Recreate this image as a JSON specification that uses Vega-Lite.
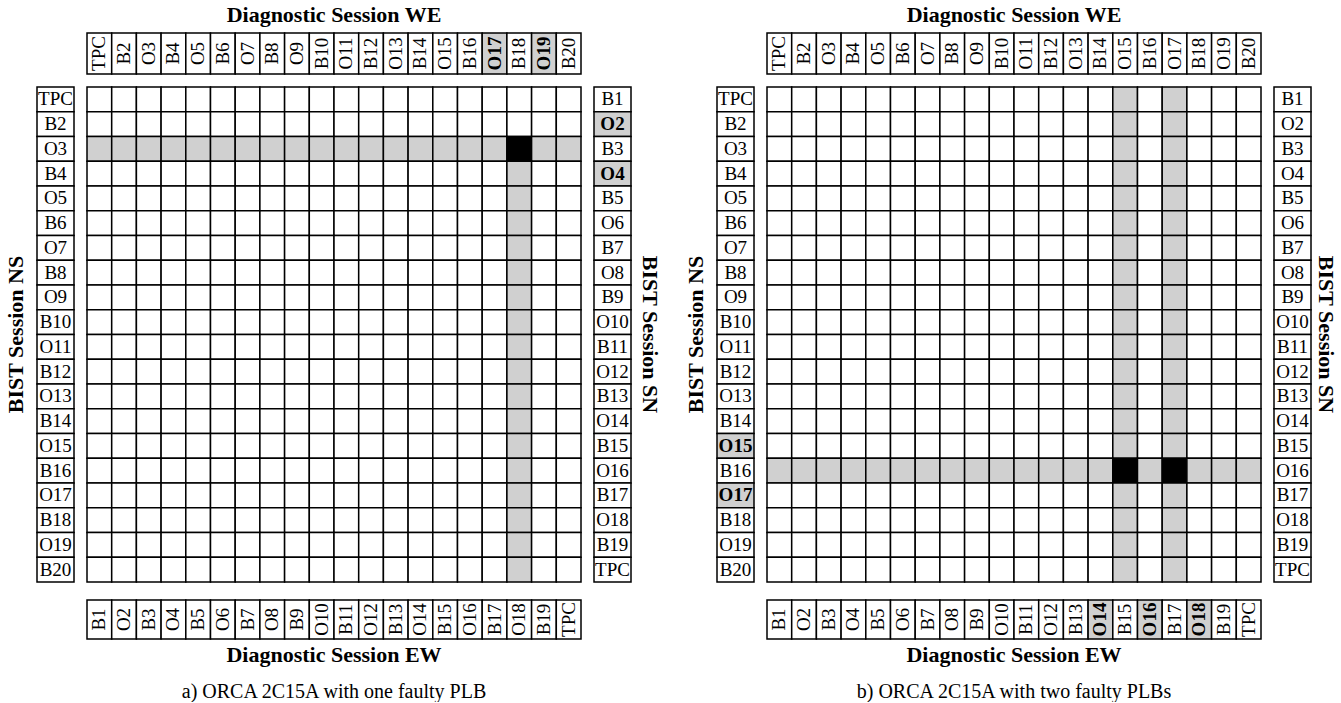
{
"$schema": "https://vega.github.io/schema/vega-lite/v6.json",
"padding": {"left": 5, "top": 4, "right": 0, "bottom": 0},
"background": "white",
"config": {"view": {"stroke": null}, "font": "Liberation Serif", "title": {"font": "Liberation Serif", "color": "black"}, "text": {"font": "Liberation Serif", "color": "black"}},
"datasets": {
"aTop": [{"i":1,"t":"TPC","h":0},{"i":2,"t":"B2","h":0},{"i":3,"t":"O3","h":0},{"i":4,"t":"B4","h":0},{"i":5,"t":"O5","h":0},{"i":6,"t":"B6","h":0},{"i":7,"t":"O7","h":0},{"i":8,"t":"B8","h":0},{"i":9,"t":"O9","h":0},{"i":10,"t":"B10","h":0},{"i":11,"t":"O11","h":0},{"i":12,"t":"B12","h":0},{"i":13,"t":"O13","h":0},{"i":14,"t":"B14","h":0},{"i":15,"t":"O15","h":0},{"i":16,"t":"B16","h":0},{"i":17,"t":"O17","h":1},{"i":18,"t":"B18","h":0},{"i":19,"t":"O19","h":1},{"i":20,"t":"B20","h":0}],
"aBottom": [{"i":1,"t":"B1","h":0},{"i":2,"t":"O2","h":0},{"i":3,"t":"B3","h":0},{"i":4,"t":"O4","h":0},{"i":5,"t":"B5","h":0},{"i":6,"t":"O6","h":0},{"i":7,"t":"B7","h":0},{"i":8,"t":"O8","h":0},{"i":9,"t":"B9","h":0},{"i":10,"t":"O10","h":0},{"i":11,"t":"B11","h":0},{"i":12,"t":"O12","h":0},{"i":13,"t":"B13","h":0},{"i":14,"t":"O14","h":0},{"i":15,"t":"B15","h":0},{"i":16,"t":"O16","h":0},{"i":17,"t":"B17","h":0},{"i":18,"t":"O18","h":0},{"i":19,"t":"B19","h":0},{"i":20,"t":"TPC","h":0}],
"aLeft": [{"i":1,"t":"TPC","h":0},{"i":2,"t":"B2","h":0},{"i":3,"t":"O3","h":0},{"i":4,"t":"B4","h":0},{"i":5,"t":"O5","h":0},{"i":6,"t":"B6","h":0},{"i":7,"t":"O7","h":0},{"i":8,"t":"B8","h":0},{"i":9,"t":"O9","h":0},{"i":10,"t":"B10","h":0},{"i":11,"t":"O11","h":0},{"i":12,"t":"B12","h":0},{"i":13,"t":"O13","h":0},{"i":14,"t":"B14","h":0},{"i":15,"t":"O15","h":0},{"i":16,"t":"B16","h":0},{"i":17,"t":"O17","h":0},{"i":18,"t":"B18","h":0},{"i":19,"t":"O19","h":0},{"i":20,"t":"B20","h":0}],
"aRight": [{"i":1,"t":"B1","h":0},{"i":2,"t":"O2","h":1},{"i":3,"t":"B3","h":0},{"i":4,"t":"O4","h":1},{"i":5,"t":"B5","h":0},{"i":6,"t":"O6","h":0},{"i":7,"t":"B7","h":0},{"i":8,"t":"O8","h":0},{"i":9,"t":"B9","h":0},{"i":10,"t":"O10","h":0},{"i":11,"t":"B11","h":0},{"i":12,"t":"O12","h":0},{"i":13,"t":"B13","h":0},{"i":14,"t":"O14","h":0},{"i":15,"t":"B15","h":0},{"i":16,"t":"O16","h":0},{"i":17,"t":"B17","h":0},{"i":18,"t":"O18","h":0},{"i":19,"t":"B19","h":0},{"i":20,"t":"TPC","h":0}],
"bTop": [{"i":1,"t":"TPC","h":0},{"i":2,"t":"B2","h":0},{"i":3,"t":"O3","h":0},{"i":4,"t":"B4","h":0},{"i":5,"t":"O5","h":0},{"i":6,"t":"B6","h":0},{"i":7,"t":"O7","h":0},{"i":8,"t":"B8","h":0},{"i":9,"t":"O9","h":0},{"i":10,"t":"B10","h":0},{"i":11,"t":"O11","h":0},{"i":12,"t":"B12","h":0},{"i":13,"t":"O13","h":0},{"i":14,"t":"B14","h":0},{"i":15,"t":"O15","h":0},{"i":16,"t":"B16","h":0},{"i":17,"t":"O17","h":0},{"i":18,"t":"B18","h":0},{"i":19,"t":"O19","h":0},{"i":20,"t":"B20","h":0}],
"bBottom": [{"i":1,"t":"B1","h":0},{"i":2,"t":"O2","h":0},{"i":3,"t":"B3","h":0},{"i":4,"t":"O4","h":0},{"i":5,"t":"B5","h":0},{"i":6,"t":"O6","h":0},{"i":7,"t":"B7","h":0},{"i":8,"t":"O8","h":0},{"i":9,"t":"B9","h":0},{"i":10,"t":"O10","h":0},{"i":11,"t":"B11","h":0},{"i":12,"t":"O12","h":0},{"i":13,"t":"B13","h":0},{"i":14,"t":"O14","h":1},{"i":15,"t":"B15","h":0},{"i":16,"t":"O16","h":1},{"i":17,"t":"B17","h":0},{"i":18,"t":"O18","h":1},{"i":19,"t":"B19","h":0},{"i":20,"t":"TPC","h":0}],
"bLeft": [{"i":1,"t":"TPC","h":0},{"i":2,"t":"B2","h":0},{"i":3,"t":"O3","h":0},{"i":4,"t":"B4","h":0},{"i":5,"t":"O5","h":0},{"i":6,"t":"B6","h":0},{"i":7,"t":"O7","h":0},{"i":8,"t":"B8","h":0},{"i":9,"t":"O9","h":0},{"i":10,"t":"B10","h":0},{"i":11,"t":"O11","h":0},{"i":12,"t":"B12","h":0},{"i":13,"t":"O13","h":0},{"i":14,"t":"B14","h":0},{"i":15,"t":"O15","h":1},{"i":16,"t":"B16","h":0},{"i":17,"t":"O17","h":1},{"i":18,"t":"B18","h":0},{"i":19,"t":"O19","h":0},{"i":20,"t":"B20","h":0}],
"bRight": [{"i":1,"t":"B1","h":0},{"i":2,"t":"O2","h":0},{"i":3,"t":"B3","h":0},{"i":4,"t":"O4","h":0},{"i":5,"t":"B5","h":0},{"i":6,"t":"O6","h":0},{"i":7,"t":"B7","h":0},{"i":8,"t":"O8","h":0},{"i":9,"t":"B9","h":0},{"i":10,"t":"O10","h":0},{"i":11,"t":"B11","h":0},{"i":12,"t":"O12","h":0},{"i":13,"t":"B13","h":0},{"i":14,"t":"O14","h":0},{"i":15,"t":"B15","h":0},{"i":16,"t":"O16","h":0},{"i":17,"t":"B17","h":0},{"i":18,"t":"O18","h":0},{"i":19,"t":"B19","h":0},{"i":20,"t":"TPC","h":0}],
"aCells": [
{"r":1,"c":1,"v":0},{"r":1,"c":2,"v":0},{"r":1,"c":3,"v":0},{"r":1,"c":4,"v":0},{"r":1,"c":5,"v":0},{"r":1,"c":6,"v":0},{"r":1,"c":7,"v":0},{"r":1,"c":8,"v":0},{"r":1,"c":9,"v":0},{"r":1,"c":10,"v":0},{"r":1,"c":11,"v":0},{"r":1,"c":12,"v":0},{"r":1,"c":13,"v":0},{"r":1,"c":14,"v":0},{"r":1,"c":15,"v":0},{"r":1,"c":16,"v":0},{"r":1,"c":17,"v":0},{"r":1,"c":18,"v":0},{"r":1,"c":19,"v":0},{"r":1,"c":20,"v":0},
{"r":2,"c":1,"v":0},{"r":2,"c":2,"v":0},{"r":2,"c":3,"v":0},{"r":2,"c":4,"v":0},{"r":2,"c":5,"v":0},{"r":2,"c":6,"v":0},{"r":2,"c":7,"v":0},{"r":2,"c":8,"v":0},{"r":2,"c":9,"v":0},{"r":2,"c":10,"v":0},{"r":2,"c":11,"v":0},{"r":2,"c":12,"v":0},{"r":2,"c":13,"v":0},{"r":2,"c":14,"v":0},{"r":2,"c":15,"v":0},{"r":2,"c":16,"v":0},{"r":2,"c":17,"v":0},{"r":2,"c":18,"v":0},{"r":2,"c":19,"v":0},{"r":2,"c":20,"v":0},
{"r":3,"c":1,"v":1},{"r":3,"c":2,"v":1},{"r":3,"c":3,"v":1},{"r":3,"c":4,"v":1},{"r":3,"c":5,"v":1},{"r":3,"c":6,"v":1},{"r":3,"c":7,"v":1},{"r":3,"c":8,"v":1},{"r":3,"c":9,"v":1},{"r":3,"c":10,"v":1},{"r":3,"c":11,"v":1},{"r":3,"c":12,"v":1},{"r":3,"c":13,"v":1},{"r":3,"c":14,"v":1},{"r":3,"c":15,"v":1},{"r":3,"c":16,"v":1},{"r":3,"c":17,"v":1},{"r":3,"c":18,"v":2},{"r":3,"c":19,"v":1},{"r":3,"c":20,"v":1},
{"r":4,"c":1,"v":0},{"r":4,"c":2,"v":0},{"r":4,"c":3,"v":0},{"r":4,"c":4,"v":0},{"r":4,"c":5,"v":0},{"r":4,"c":6,"v":0},{"r":4,"c":7,"v":0},{"r":4,"c":8,"v":0},{"r":4,"c":9,"v":0},{"r":4,"c":10,"v":0},{"r":4,"c":11,"v":0},{"r":4,"c":12,"v":0},{"r":4,"c":13,"v":0},{"r":4,"c":14,"v":0},{"r":4,"c":15,"v":0},{"r":4,"c":16,"v":0},{"r":4,"c":17,"v":0},{"r":4,"c":18,"v":1},{"r":4,"c":19,"v":0},{"r":4,"c":20,"v":0},
{"r":5,"c":1,"v":0},{"r":5,"c":2,"v":0},{"r":5,"c":3,"v":0},{"r":5,"c":4,"v":0},{"r":5,"c":5,"v":0},{"r":5,"c":6,"v":0},{"r":5,"c":7,"v":0},{"r":5,"c":8,"v":0},{"r":5,"c":9,"v":0},{"r":5,"c":10,"v":0},{"r":5,"c":11,"v":0},{"r":5,"c":12,"v":0},{"r":5,"c":13,"v":0},{"r":5,"c":14,"v":0},{"r":5,"c":15,"v":0},{"r":5,"c":16,"v":0},{"r":5,"c":17,"v":0},{"r":5,"c":18,"v":1},{"r":5,"c":19,"v":0},{"r":5,"c":20,"v":0},
{"r":6,"c":1,"v":0},{"r":6,"c":2,"v":0},{"r":6,"c":3,"v":0},{"r":6,"c":4,"v":0},{"r":6,"c":5,"v":0},{"r":6,"c":6,"v":0},{"r":6,"c":7,"v":0},{"r":6,"c":8,"v":0},{"r":6,"c":9,"v":0},{"r":6,"c":10,"v":0},{"r":6,"c":11,"v":0},{"r":6,"c":12,"v":0},{"r":6,"c":13,"v":0},{"r":6,"c":14,"v":0},{"r":6,"c":15,"v":0},{"r":6,"c":16,"v":0},{"r":6,"c":17,"v":0},{"r":6,"c":18,"v":1},{"r":6,"c":19,"v":0},{"r":6,"c":20,"v":0},
{"r":7,"c":1,"v":0},{"r":7,"c":2,"v":0},{"r":7,"c":3,"v":0},{"r":7,"c":4,"v":0},{"r":7,"c":5,"v":0},{"r":7,"c":6,"v":0},{"r":7,"c":7,"v":0},{"r":7,"c":8,"v":0},{"r":7,"c":9,"v":0},{"r":7,"c":10,"v":0},{"r":7,"c":11,"v":0},{"r":7,"c":12,"v":0},{"r":7,"c":13,"v":0},{"r":7,"c":14,"v":0},{"r":7,"c":15,"v":0},{"r":7,"c":16,"v":0},{"r":7,"c":17,"v":0},{"r":7,"c":18,"v":1},{"r":7,"c":19,"v":0},{"r":7,"c":20,"v":0},
{"r":8,"c":1,"v":0},{"r":8,"c":2,"v":0},{"r":8,"c":3,"v":0},{"r":8,"c":4,"v":0},{"r":8,"c":5,"v":0},{"r":8,"c":6,"v":0},{"r":8,"c":7,"v":0},{"r":8,"c":8,"v":0},{"r":8,"c":9,"v":0},{"r":8,"c":10,"v":0},{"r":8,"c":11,"v":0},{"r":8,"c":12,"v":0},{"r":8,"c":13,"v":0},{"r":8,"c":14,"v":0},{"r":8,"c":15,"v":0},{"r":8,"c":16,"v":0},{"r":8,"c":17,"v":0},{"r":8,"c":18,"v":1},{"r":8,"c":19,"v":0},{"r":8,"c":20,"v":0},
{"r":9,"c":1,"v":0},{"r":9,"c":2,"v":0},{"r":9,"c":3,"v":0},{"r":9,"c":4,"v":0},{"r":9,"c":5,"v":0},{"r":9,"c":6,"v":0},{"r":9,"c":7,"v":0},{"r":9,"c":8,"v":0},{"r":9,"c":9,"v":0},{"r":9,"c":10,"v":0},{"r":9,"c":11,"v":0},{"r":9,"c":12,"v":0},{"r":9,"c":13,"v":0},{"r":9,"c":14,"v":0},{"r":9,"c":15,"v":0},{"r":9,"c":16,"v":0},{"r":9,"c":17,"v":0},{"r":9,"c":18,"v":1},{"r":9,"c":19,"v":0},{"r":9,"c":20,"v":0},
{"r":10,"c":1,"v":0},{"r":10,"c":2,"v":0},{"r":10,"c":3,"v":0},{"r":10,"c":4,"v":0},{"r":10,"c":5,"v":0},{"r":10,"c":6,"v":0},{"r":10,"c":7,"v":0},{"r":10,"c":8,"v":0},{"r":10,"c":9,"v":0},{"r":10,"c":10,"v":0},{"r":10,"c":11,"v":0},{"r":10,"c":12,"v":0},{"r":10,"c":13,"v":0},{"r":10,"c":14,"v":0},{"r":10,"c":15,"v":0},{"r":10,"c":16,"v":0},{"r":10,"c":17,"v":0},{"r":10,"c":18,"v":1},{"r":10,"c":19,"v":0},{"r":10,"c":20,"v":0},
{"r":11,"c":1,"v":0},{"r":11,"c":2,"v":0},{"r":11,"c":3,"v":0},{"r":11,"c":4,"v":0},{"r":11,"c":5,"v":0},{"r":11,"c":6,"v":0},{"r":11,"c":7,"v":0},{"r":11,"c":8,"v":0},{"r":11,"c":9,"v":0},{"r":11,"c":10,"v":0},{"r":11,"c":11,"v":0},{"r":11,"c":12,"v":0},{"r":11,"c":13,"v":0},{"r":11,"c":14,"v":0},{"r":11,"c":15,"v":0},{"r":11,"c":16,"v":0},{"r":11,"c":17,"v":0},{"r":11,"c":18,"v":1},{"r":11,"c":19,"v":0},{"r":11,"c":20,"v":0},
{"r":12,"c":1,"v":0},{"r":12,"c":2,"v":0},{"r":12,"c":3,"v":0},{"r":12,"c":4,"v":0},{"r":12,"c":5,"v":0},{"r":12,"c":6,"v":0},{"r":12,"c":7,"v":0},{"r":12,"c":8,"v":0},{"r":12,"c":9,"v":0},{"r":12,"c":10,"v":0},{"r":12,"c":11,"v":0},{"r":12,"c":12,"v":0},{"r":12,"c":13,"v":0},{"r":12,"c":14,"v":0},{"r":12,"c":15,"v":0},{"r":12,"c":16,"v":0},{"r":12,"c":17,"v":0},{"r":12,"c":18,"v":1},{"r":12,"c":19,"v":0},{"r":12,"c":20,"v":0},
{"r":13,"c":1,"v":0},{"r":13,"c":2,"v":0},{"r":13,"c":3,"v":0},{"r":13,"c":4,"v":0},{"r":13,"c":5,"v":0},{"r":13,"c":6,"v":0},{"r":13,"c":7,"v":0},{"r":13,"c":8,"v":0},{"r":13,"c":9,"v":0},{"r":13,"c":10,"v":0},{"r":13,"c":11,"v":0},{"r":13,"c":12,"v":0},{"r":13,"c":13,"v":0},{"r":13,"c":14,"v":0},{"r":13,"c":15,"v":0},{"r":13,"c":16,"v":0},{"r":13,"c":17,"v":0},{"r":13,"c":18,"v":1},{"r":13,"c":19,"v":0},{"r":13,"c":20,"v":0},
{"r":14,"c":1,"v":0},{"r":14,"c":2,"v":0},{"r":14,"c":3,"v":0},{"r":14,"c":4,"v":0},{"r":14,"c":5,"v":0},{"r":14,"c":6,"v":0},{"r":14,"c":7,"v":0},{"r":14,"c":8,"v":0},{"r":14,"c":9,"v":0},{"r":14,"c":10,"v":0},{"r":14,"c":11,"v":0},{"r":14,"c":12,"v":0},{"r":14,"c":13,"v":0},{"r":14,"c":14,"v":0},{"r":14,"c":15,"v":0},{"r":14,"c":16,"v":0},{"r":14,"c":17,"v":0},{"r":14,"c":18,"v":1},{"r":14,"c":19,"v":0},{"r":14,"c":20,"v":0},
{"r":15,"c":1,"v":0},{"r":15,"c":2,"v":0},{"r":15,"c":3,"v":0},{"r":15,"c":4,"v":0},{"r":15,"c":5,"v":0},{"r":15,"c":6,"v":0},{"r":15,"c":7,"v":0},{"r":15,"c":8,"v":0},{"r":15,"c":9,"v":0},{"r":15,"c":10,"v":0},{"r":15,"c":11,"v":0},{"r":15,"c":12,"v":0},{"r":15,"c":13,"v":0},{"r":15,"c":14,"v":0},{"r":15,"c":15,"v":0},{"r":15,"c":16,"v":0},{"r":15,"c":17,"v":0},{"r":15,"c":18,"v":1},{"r":15,"c":19,"v":0},{"r":15,"c":20,"v":0},
{"r":16,"c":1,"v":0},{"r":16,"c":2,"v":0},{"r":16,"c":3,"v":0},{"r":16,"c":4,"v":0},{"r":16,"c":5,"v":0},{"r":16,"c":6,"v":0},{"r":16,"c":7,"v":0},{"r":16,"c":8,"v":0},{"r":16,"c":9,"v":0},{"r":16,"c":10,"v":0},{"r":16,"c":11,"v":0},{"r":16,"c":12,"v":0},{"r":16,"c":13,"v":0},{"r":16,"c":14,"v":0},{"r":16,"c":15,"v":0},{"r":16,"c":16,"v":0},{"r":16,"c":17,"v":0},{"r":16,"c":18,"v":1},{"r":16,"c":19,"v":0},{"r":16,"c":20,"v":0},
{"r":17,"c":1,"v":0},{"r":17,"c":2,"v":0},{"r":17,"c":3,"v":0},{"r":17,"c":4,"v":0},{"r":17,"c":5,"v":0},{"r":17,"c":6,"v":0},{"r":17,"c":7,"v":0},{"r":17,"c":8,"v":0},{"r":17,"c":9,"v":0},{"r":17,"c":10,"v":0},{"r":17,"c":11,"v":0},{"r":17,"c":12,"v":0},{"r":17,"c":13,"v":0},{"r":17,"c":14,"v":0},{"r":17,"c":15,"v":0},{"r":17,"c":16,"v":0},{"r":17,"c":17,"v":0},{"r":17,"c":18,"v":1},{"r":17,"c":19,"v":0},{"r":17,"c":20,"v":0},
{"r":18,"c":1,"v":0},{"r":18,"c":2,"v":0},{"r":18,"c":3,"v":0},{"r":18,"c":4,"v":0},{"r":18,"c":5,"v":0},{"r":18,"c":6,"v":0},{"r":18,"c":7,"v":0},{"r":18,"c":8,"v":0},{"r":18,"c":9,"v":0},{"r":18,"c":10,"v":0},{"r":18,"c":11,"v":0},{"r":18,"c":12,"v":0},{"r":18,"c":13,"v":0},{"r":18,"c":14,"v":0},{"r":18,"c":15,"v":0},{"r":18,"c":16,"v":0},{"r":18,"c":17,"v":0},{"r":18,"c":18,"v":1},{"r":18,"c":19,"v":0},{"r":18,"c":20,"v":0},
{"r":19,"c":1,"v":0},{"r":19,"c":2,"v":0},{"r":19,"c":3,"v":0},{"r":19,"c":4,"v":0},{"r":19,"c":5,"v":0},{"r":19,"c":6,"v":0},{"r":19,"c":7,"v":0},{"r":19,"c":8,"v":0},{"r":19,"c":9,"v":0},{"r":19,"c":10,"v":0},{"r":19,"c":11,"v":0},{"r":19,"c":12,"v":0},{"r":19,"c":13,"v":0},{"r":19,"c":14,"v":0},{"r":19,"c":15,"v":0},{"r":19,"c":16,"v":0},{"r":19,"c":17,"v":0},{"r":19,"c":18,"v":1},{"r":19,"c":19,"v":0},{"r":19,"c":20,"v":0},
{"r":20,"c":1,"v":0},{"r":20,"c":2,"v":0},{"r":20,"c":3,"v":0},{"r":20,"c":4,"v":0},{"r":20,"c":5,"v":0},{"r":20,"c":6,"v":0},{"r":20,"c":7,"v":0},{"r":20,"c":8,"v":0},{"r":20,"c":9,"v":0},{"r":20,"c":10,"v":0},{"r":20,"c":11,"v":0},{"r":20,"c":12,"v":0},{"r":20,"c":13,"v":0},{"r":20,"c":14,"v":0},{"r":20,"c":15,"v":0},{"r":20,"c":16,"v":0},{"r":20,"c":17,"v":0},{"r":20,"c":18,"v":1},{"r":20,"c":19,"v":0},{"r":20,"c":20,"v":0}
],
"bCells": [
{"r":1,"c":1,"v":0},{"r":1,"c":2,"v":0},{"r":1,"c":3,"v":0},{"r":1,"c":4,"v":0},{"r":1,"c":5,"v":0},{"r":1,"c":6,"v":0},{"r":1,"c":7,"v":0},{"r":1,"c":8,"v":0},{"r":1,"c":9,"v":0},{"r":1,"c":10,"v":0},{"r":1,"c":11,"v":0},{"r":1,"c":12,"v":0},{"r":1,"c":13,"v":0},{"r":1,"c":14,"v":0},{"r":1,"c":15,"v":1},{"r":1,"c":16,"v":0},{"r":1,"c":17,"v":1},{"r":1,"c":18,"v":0},{"r":1,"c":19,"v":0},{"r":1,"c":20,"v":0},
{"r":2,"c":1,"v":0},{"r":2,"c":2,"v":0},{"r":2,"c":3,"v":0},{"r":2,"c":4,"v":0},{"r":2,"c":5,"v":0},{"r":2,"c":6,"v":0},{"r":2,"c":7,"v":0},{"r":2,"c":8,"v":0},{"r":2,"c":9,"v":0},{"r":2,"c":10,"v":0},{"r":2,"c":11,"v":0},{"r":2,"c":12,"v":0},{"r":2,"c":13,"v":0},{"r":2,"c":14,"v":0},{"r":2,"c":15,"v":1},{"r":2,"c":16,"v":0},{"r":2,"c":17,"v":1},{"r":2,"c":18,"v":0},{"r":2,"c":19,"v":0},{"r":2,"c":20,"v":0},
{"r":3,"c":1,"v":0},{"r":3,"c":2,"v":0},{"r":3,"c":3,"v":0},{"r":3,"c":4,"v":0},{"r":3,"c":5,"v":0},{"r":3,"c":6,"v":0},{"r":3,"c":7,"v":0},{"r":3,"c":8,"v":0},{"r":3,"c":9,"v":0},{"r":3,"c":10,"v":0},{"r":3,"c":11,"v":0},{"r":3,"c":12,"v":0},{"r":3,"c":13,"v":0},{"r":3,"c":14,"v":0},{"r":3,"c":15,"v":1},{"r":3,"c":16,"v":0},{"r":3,"c":17,"v":1},{"r":3,"c":18,"v":0},{"r":3,"c":19,"v":0},{"r":3,"c":20,"v":0},
{"r":4,"c":1,"v":0},{"r":4,"c":2,"v":0},{"r":4,"c":3,"v":0},{"r":4,"c":4,"v":0},{"r":4,"c":5,"v":0},{"r":4,"c":6,"v":0},{"r":4,"c":7,"v":0},{"r":4,"c":8,"v":0},{"r":4,"c":9,"v":0},{"r":4,"c":10,"v":0},{"r":4,"c":11,"v":0},{"r":4,"c":12,"v":0},{"r":4,"c":13,"v":0},{"r":4,"c":14,"v":0},{"r":4,"c":15,"v":1},{"r":4,"c":16,"v":0},{"r":4,"c":17,"v":1},{"r":4,"c":18,"v":0},{"r":4,"c":19,"v":0},{"r":4,"c":20,"v":0},
{"r":5,"c":1,"v":0},{"r":5,"c":2,"v":0},{"r":5,"c":3,"v":0},{"r":5,"c":4,"v":0},{"r":5,"c":5,"v":0},{"r":5,"c":6,"v":0},{"r":5,"c":7,"v":0},{"r":5,"c":8,"v":0},{"r":5,"c":9,"v":0},{"r":5,"c":10,"v":0},{"r":5,"c":11,"v":0},{"r":5,"c":12,"v":0},{"r":5,"c":13,"v":0},{"r":5,"c":14,"v":0},{"r":5,"c":15,"v":1},{"r":5,"c":16,"v":0},{"r":5,"c":17,"v":1},{"r":5,"c":18,"v":0},{"r":5,"c":19,"v":0},{"r":5,"c":20,"v":0},
{"r":6,"c":1,"v":0},{"r":6,"c":2,"v":0},{"r":6,"c":3,"v":0},{"r":6,"c":4,"v":0},{"r":6,"c":5,"v":0},{"r":6,"c":6,"v":0},{"r":6,"c":7,"v":0},{"r":6,"c":8,"v":0},{"r":6,"c":9,"v":0},{"r":6,"c":10,"v":0},{"r":6,"c":11,"v":0},{"r":6,"c":12,"v":0},{"r":6,"c":13,"v":0},{"r":6,"c":14,"v":0},{"r":6,"c":15,"v":1},{"r":6,"c":16,"v":0},{"r":6,"c":17,"v":1},{"r":6,"c":18,"v":0},{"r":6,"c":19,"v":0},{"r":6,"c":20,"v":0},
{"r":7,"c":1,"v":0},{"r":7,"c":2,"v":0},{"r":7,"c":3,"v":0},{"r":7,"c":4,"v":0},{"r":7,"c":5,"v":0},{"r":7,"c":6,"v":0},{"r":7,"c":7,"v":0},{"r":7,"c":8,"v":0},{"r":7,"c":9,"v":0},{"r":7,"c":10,"v":0},{"r":7,"c":11,"v":0},{"r":7,"c":12,"v":0},{"r":7,"c":13,"v":0},{"r":7,"c":14,"v":0},{"r":7,"c":15,"v":1},{"r":7,"c":16,"v":0},{"r":7,"c":17,"v":1},{"r":7,"c":18,"v":0},{"r":7,"c":19,"v":0},{"r":7,"c":20,"v":0},
{"r":8,"c":1,"v":0},{"r":8,"c":2,"v":0},{"r":8,"c":3,"v":0},{"r":8,"c":4,"v":0},{"r":8,"c":5,"v":0},{"r":8,"c":6,"v":0},{"r":8,"c":7,"v":0},{"r":8,"c":8,"v":0},{"r":8,"c":9,"v":0},{"r":8,"c":10,"v":0},{"r":8,"c":11,"v":0},{"r":8,"c":12,"v":0},{"r":8,"c":13,"v":0},{"r":8,"c":14,"v":0},{"r":8,"c":15,"v":1},{"r":8,"c":16,"v":0},{"r":8,"c":17,"v":1},{"r":8,"c":18,"v":0},{"r":8,"c":19,"v":0},{"r":8,"c":20,"v":0},
{"r":9,"c":1,"v":0},{"r":9,"c":2,"v":0},{"r":9,"c":3,"v":0},{"r":9,"c":4,"v":0},{"r":9,"c":5,"v":0},{"r":9,"c":6,"v":0},{"r":9,"c":7,"v":0},{"r":9,"c":8,"v":0},{"r":9,"c":9,"v":0},{"r":9,"c":10,"v":0},{"r":9,"c":11,"v":0},{"r":9,"c":12,"v":0},{"r":9,"c":13,"v":0},{"r":9,"c":14,"v":0},{"r":9,"c":15,"v":1},{"r":9,"c":16,"v":0},{"r":9,"c":17,"v":1},{"r":9,"c":18,"v":0},{"r":9,"c":19,"v":0},{"r":9,"c":20,"v":0},
{"r":10,"c":1,"v":0},{"r":10,"c":2,"v":0},{"r":10,"c":3,"v":0},{"r":10,"c":4,"v":0},{"r":10,"c":5,"v":0},{"r":10,"c":6,"v":0},{"r":10,"c":7,"v":0},{"r":10,"c":8,"v":0},{"r":10,"c":9,"v":0},{"r":10,"c":10,"v":0},{"r":10,"c":11,"v":0},{"r":10,"c":12,"v":0},{"r":10,"c":13,"v":0},{"r":10,"c":14,"v":0},{"r":10,"c":15,"v":1},{"r":10,"c":16,"v":0},{"r":10,"c":17,"v":1},{"r":10,"c":18,"v":0},{"r":10,"c":19,"v":0},{"r":10,"c":20,"v":0},
{"r":11,"c":1,"v":0},{"r":11,"c":2,"v":0},{"r":11,"c":3,"v":0},{"r":11,"c":4,"v":0},{"r":11,"c":5,"v":0},{"r":11,"c":6,"v":0},{"r":11,"c":7,"v":0},{"r":11,"c":8,"v":0},{"r":11,"c":9,"v":0},{"r":11,"c":10,"v":0},{"r":11,"c":11,"v":0},{"r":11,"c":12,"v":0},{"r":11,"c":13,"v":0},{"r":11,"c":14,"v":0},{"r":11,"c":15,"v":1},{"r":11,"c":16,"v":0},{"r":11,"c":17,"v":1},{"r":11,"c":18,"v":0},{"r":11,"c":19,"v":0},{"r":11,"c":20,"v":0},
{"r":12,"c":1,"v":0},{"r":12,"c":2,"v":0},{"r":12,"c":3,"v":0},{"r":12,"c":4,"v":0},{"r":12,"c":5,"v":0},{"r":12,"c":6,"v":0},{"r":12,"c":7,"v":0},{"r":12,"c":8,"v":0},{"r":12,"c":9,"v":0},{"r":12,"c":10,"v":0},{"r":12,"c":11,"v":0},{"r":12,"c":12,"v":0},{"r":12,"c":13,"v":0},{"r":12,"c":14,"v":0},{"r":12,"c":15,"v":1},{"r":12,"c":16,"v":0},{"r":12,"c":17,"v":1},{"r":12,"c":18,"v":0},{"r":12,"c":19,"v":0},{"r":12,"c":20,"v":0},
{"r":13,"c":1,"v":0},{"r":13,"c":2,"v":0},{"r":13,"c":3,"v":0},{"r":13,"c":4,"v":0},{"r":13,"c":5,"v":0},{"r":13,"c":6,"v":0},{"r":13,"c":7,"v":0},{"r":13,"c":8,"v":0},{"r":13,"c":9,"v":0},{"r":13,"c":10,"v":0},{"r":13,"c":11,"v":0},{"r":13,"c":12,"v":0},{"r":13,"c":13,"v":0},{"r":13,"c":14,"v":0},{"r":13,"c":15,"v":1},{"r":13,"c":16,"v":0},{"r":13,"c":17,"v":1},{"r":13,"c":18,"v":0},{"r":13,"c":19,"v":0},{"r":13,"c":20,"v":0},
{"r":14,"c":1,"v":0},{"r":14,"c":2,"v":0},{"r":14,"c":3,"v":0},{"r":14,"c":4,"v":0},{"r":14,"c":5,"v":0},{"r":14,"c":6,"v":0},{"r":14,"c":7,"v":0},{"r":14,"c":8,"v":0},{"r":14,"c":9,"v":0},{"r":14,"c":10,"v":0},{"r":14,"c":11,"v":0},{"r":14,"c":12,"v":0},{"r":14,"c":13,"v":0},{"r":14,"c":14,"v":0},{"r":14,"c":15,"v":1},{"r":14,"c":16,"v":0},{"r":14,"c":17,"v":1},{"r":14,"c":18,"v":0},{"r":14,"c":19,"v":0},{"r":14,"c":20,"v":0},
{"r":15,"c":1,"v":0},{"r":15,"c":2,"v":0},{"r":15,"c":3,"v":0},{"r":15,"c":4,"v":0},{"r":15,"c":5,"v":0},{"r":15,"c":6,"v":0},{"r":15,"c":7,"v":0},{"r":15,"c":8,"v":0},{"r":15,"c":9,"v":0},{"r":15,"c":10,"v":0},{"r":15,"c":11,"v":0},{"r":15,"c":12,"v":0},{"r":15,"c":13,"v":0},{"r":15,"c":14,"v":0},{"r":15,"c":15,"v":1},{"r":15,"c":16,"v":0},{"r":15,"c":17,"v":1},{"r":15,"c":18,"v":0},{"r":15,"c":19,"v":0},{"r":15,"c":20,"v":0},
{"r":16,"c":1,"v":1},{"r":16,"c":2,"v":1},{"r":16,"c":3,"v":1},{"r":16,"c":4,"v":1},{"r":16,"c":5,"v":1},{"r":16,"c":6,"v":1},{"r":16,"c":7,"v":1},{"r":16,"c":8,"v":1},{"r":16,"c":9,"v":1},{"r":16,"c":10,"v":1},{"r":16,"c":11,"v":1},{"r":16,"c":12,"v":1},{"r":16,"c":13,"v":1},{"r":16,"c":14,"v":1},{"r":16,"c":15,"v":2},{"r":16,"c":16,"v":1},{"r":16,"c":17,"v":2},{"r":16,"c":18,"v":1},{"r":16,"c":19,"v":1},{"r":16,"c":20,"v":1},
{"r":17,"c":1,"v":0},{"r":17,"c":2,"v":0},{"r":17,"c":3,"v":0},{"r":17,"c":4,"v":0},{"r":17,"c":5,"v":0},{"r":17,"c":6,"v":0},{"r":17,"c":7,"v":0},{"r":17,"c":8,"v":0},{"r":17,"c":9,"v":0},{"r":17,"c":10,"v":0},{"r":17,"c":11,"v":0},{"r":17,"c":12,"v":0},{"r":17,"c":13,"v":0},{"r":17,"c":14,"v":0},{"r":17,"c":15,"v":1},{"r":17,"c":16,"v":0},{"r":17,"c":17,"v":1},{"r":17,"c":18,"v":0},{"r":17,"c":19,"v":0},{"r":17,"c":20,"v":0},
{"r":18,"c":1,"v":0},{"r":18,"c":2,"v":0},{"r":18,"c":3,"v":0},{"r":18,"c":4,"v":0},{"r":18,"c":5,"v":0},{"r":18,"c":6,"v":0},{"r":18,"c":7,"v":0},{"r":18,"c":8,"v":0},{"r":18,"c":9,"v":0},{"r":18,"c":10,"v":0},{"r":18,"c":11,"v":0},{"r":18,"c":12,"v":0},{"r":18,"c":13,"v":0},{"r":18,"c":14,"v":0},{"r":18,"c":15,"v":1},{"r":18,"c":16,"v":0},{"r":18,"c":17,"v":1},{"r":18,"c":18,"v":0},{"r":18,"c":19,"v":0},{"r":18,"c":20,"v":0},
{"r":19,"c":1,"v":0},{"r":19,"c":2,"v":0},{"r":19,"c":3,"v":0},{"r":19,"c":4,"v":0},{"r":19,"c":5,"v":0},{"r":19,"c":6,"v":0},{"r":19,"c":7,"v":0},{"r":19,"c":8,"v":0},{"r":19,"c":9,"v":0},{"r":19,"c":10,"v":0},{"r":19,"c":11,"v":0},{"r":19,"c":12,"v":0},{"r":19,"c":13,"v":0},{"r":19,"c":14,"v":0},{"r":19,"c":15,"v":1},{"r":19,"c":16,"v":0},{"r":19,"c":17,"v":1},{"r":19,"c":18,"v":0},{"r":19,"c":19,"v":0},{"r":19,"c":20,"v":0},
{"r":20,"c":1,"v":0},{"r":20,"c":2,"v":0},{"r":20,"c":3,"v":0},{"r":20,"c":4,"v":0},{"r":20,"c":5,"v":0},{"r":20,"c":6,"v":0},{"r":20,"c":7,"v":0},{"r":20,"c":8,"v":0},{"r":20,"c":9,"v":0},{"r":20,"c":10,"v":0},{"r":20,"c":11,"v":0},{"r":20,"c":12,"v":0},{"r":20,"c":13,"v":0},{"r":20,"c":14,"v":0},{"r":20,"c":15,"v":1},{"r":20,"c":16,"v":0},{"r":20,"c":17,"v":1},{"r":20,"c":18,"v":0},{"r":20,"c":19,"v":0},{"r":20,"c":20,"v":0}
]
},
"spacing": 24,
"hconcat": [
{
"columns": 3, "align": "each", "spacing": {"row": 11, "column": 11},
"concat": [
{"data": {"values": [{}]}, "mark": {"type": "text", "text": ""}, "width": 1, "height": 1},
{"data": {"name": "aTop"}, "width": 494, "height": 41,
 "title": {"text": "Diagnostic Session WE", "fontSize": 22, "fontWeight": "bold", "offset": 5},
 "encoding": {"x": {"field": "i", "type": "ordinal", "axis": null, "scale": {"paddingInner": 0, "paddingOuter": 0}}},
 "layer": [
  {"mark": {"type": "rect", "stroke": "black", "strokeWidth": 1.5}, "encoding": {"fill": {"condition": {"test": "datum.h == 1", "value": "#d0d0d0"}, "value": "white"}}},
  {"transform": [{"filter": "datum.h == 0"}], "mark": {"type": "text", "angle": 270, "fontSize": 19, "align": "center", "baseline": "middle"}, "encoding": {"text": {"field": "t"}}},
  {"transform": [{"filter": "datum.h == 1"}], "mark": {"type": "text", "angle": 270, "fontSize": 19, "fontWeight": "bold", "align": "center", "baseline": "middle"}, "encoding": {"text": {"field": "t"}}}
 ]},
{"data": {"values": [{}]}, "mark": {"type": "text", "text": ""}, "width": 1, "height": 1},
{"data": {"name": "aLeft"}, "width": 37, "height": 495,
 "title": {"text": "BIST Session NS", "orient": "left", "fontSize": 22, "fontWeight": "bold", "offset": 8},
 "encoding": {"y": {"field": "i", "type": "ordinal", "axis": null, "scale": {"paddingInner": 0, "paddingOuter": 0}}},
 "layer": [
  {"mark": {"type": "rect", "stroke": "black", "strokeWidth": 1.5}, "encoding": {"fill": {"condition": {"test": "datum.h == 1", "value": "#d0d0d0"}, "value": "white"}}},
  {"transform": [{"filter": "datum.h == 0"}], "mark": {"type": "text", "fontSize": 19, "align": "center", "baseline": "middle"}, "encoding": {"text": {"field": "t"}}},
  {"transform": [{"filter": "datum.h == 1"}], "mark": {"type": "text", "fontSize": 19, "fontWeight": "bold", "align": "center", "baseline": "middle"}, "encoding": {"text": {"field": "t"}}}
 ]},
{"data": {"name": "aCells"}, "width": 494, "height": 495,
 "mark": {"type": "rect", "stroke": "black", "strokeWidth": 1.5},
 "encoding": {
  "x": {"field": "c", "type": "ordinal", "axis": null, "scale": {"paddingInner": 0, "paddingOuter": 0}},
  "y": {"field": "r", "type": "ordinal", "axis": null, "scale": {"paddingInner": 0, "paddingOuter": 0}},
  "fill": {"condition": [{"test": "datum.v == 2", "value": "black"}, {"test": "datum.v == 1", "value": "#d0d0d0"}], "value": "white"}
 }},
{"data": {"name": "aRight"}, "width": 37, "height": 495,
 "title": {"text": "BIST Session SN", "orient": "right", "fontSize": 22, "fontWeight": "bold", "offset": 6},
 "encoding": {"y": {"field": "i", "type": "ordinal", "axis": null, "scale": {"paddingInner": 0, "paddingOuter": 0}}},
 "layer": [
  {"mark": {"type": "rect", "stroke": "black", "strokeWidth": 1.5}, "encoding": {"fill": {"condition": {"test": "datum.h == 1", "value": "#d0d0d0"}, "value": "white"}}},
  {"transform": [{"filter": "datum.h == 0"}], "mark": {"type": "text", "fontSize": 19, "align": "center", "baseline": "middle"}, "encoding": {"text": {"field": "t"}}},
  {"transform": [{"filter": "datum.h == 1"}], "mark": {"type": "text", "fontSize": 19, "fontWeight": "bold", "align": "center", "baseline": "middle"}, "encoding": {"text": {"field": "t"}}}
 ]},
{"data": {"values": [{}]}, "mark": {"type": "text", "text": ""}, "width": 1, "height": 1},
{"data": {"name": "aBottom"}, "width": 494, "height": 39,
 "title": {"text": "Diagnostic Session EW", "orient": "bottom", "fontSize": 22, "fontWeight": "bold", "offset": 5},
 "encoding": {"x": {"field": "i", "type": "ordinal", "axis": null, "scale": {"paddingInner": 0, "paddingOuter": 0}}},
 "layer": [
  {"mark": {"type": "rect", "stroke": "black", "strokeWidth": 1.5}, "encoding": {"fill": {"condition": {"test": "datum.h == 1", "value": "#d0d0d0"}, "value": "white"}}},
  {"transform": [{"filter": "datum.h == 0"}], "mark": {"type": "text", "angle": 270, "fontSize": 19, "align": "center", "baseline": "middle"}, "encoding": {"text": {"field": "t"}}},
  {"transform": [{"filter": "datum.h == 1"}], "mark": {"type": "text", "angle": 270, "fontSize": 19, "fontWeight": "bold", "align": "center", "baseline": "middle"}, "encoding": {"text": {"field": "t"}}}
 ]},
{"data": {"values": [{}]}, "mark": {"type": "text", "text": ""}, "width": 1, "height": 1},
{"data": {"values": [{}]}, "mark": {"type": "text", "text": ""}, "width": 1, "height": 1},
{"data": {"values": [{"t": "a) ORCA 2C15A with one faulty PLB"}]}, "width": 494, "height": 18,
 "mark": {"type": "text", "fontSize": 20, "baseline": "middle"}, "encoding": {"text": {"field": "t"}}},
{"data": {"values": [{}]}, "mark": {"type": "text", "text": ""}, "width": 1, "height": 1}
]
},
{
"columns": 3, "align": "each", "spacing": {"row": 11, "column": 11},
"concat": [
{"data": {"values": [{}]}, "mark": {"type": "text", "text": ""}, "width": 1, "height": 1},
{"data": {"name": "bTop"}, "width": 494, "height": 41,
 "title": {"text": "Diagnostic Session WE", "fontSize": 22, "fontWeight": "bold", "offset": 5},
 "encoding": {"x": {"field": "i", "type": "ordinal", "axis": null, "scale": {"paddingInner": 0, "paddingOuter": 0}}},
 "layer": [
  {"mark": {"type": "rect", "stroke": "black", "strokeWidth": 1.5}, "encoding": {"fill": {"condition": {"test": "datum.h == 1", "value": "#d0d0d0"}, "value": "white"}}},
  {"transform": [{"filter": "datum.h == 0"}], "mark": {"type": "text", "angle": 270, "fontSize": 19, "align": "center", "baseline": "middle"}, "encoding": {"text": {"field": "t"}}},
  {"transform": [{"filter": "datum.h == 1"}], "mark": {"type": "text", "angle": 270, "fontSize": 19, "fontWeight": "bold", "align": "center", "baseline": "middle"}, "encoding": {"text": {"field": "t"}}}
 ]},
{"data": {"values": [{}]}, "mark": {"type": "text", "text": ""}, "width": 1, "height": 1},
{"data": {"name": "bLeft"}, "width": 37, "height": 495,
 "title": {"text": "BIST Session NS", "orient": "left", "fontSize": 22, "fontWeight": "bold", "offset": 8},
 "encoding": {"y": {"field": "i", "type": "ordinal", "axis": null, "scale": {"paddingInner": 0, "paddingOuter": 0}}},
 "layer": [
  {"mark": {"type": "rect", "stroke": "black", "strokeWidth": 1.5}, "encoding": {"fill": {"condition": {"test": "datum.h == 1", "value": "#d0d0d0"}, "value": "white"}}},
  {"transform": [{"filter": "datum.h == 0"}], "mark": {"type": "text", "fontSize": 19, "align": "center", "baseline": "middle"}, "encoding": {"text": {"field": "t"}}},
  {"transform": [{"filter": "datum.h == 1"}], "mark": {"type": "text", "fontSize": 19, "fontWeight": "bold", "align": "center", "baseline": "middle"}, "encoding": {"text": {"field": "t"}}}
 ]},
{"data": {"name": "bCells"}, "width": 494, "height": 495,
 "mark": {"type": "rect", "stroke": "black", "strokeWidth": 1.5},
 "encoding": {
  "x": {"field": "c", "type": "ordinal", "axis": null, "scale": {"paddingInner": 0, "paddingOuter": 0}},
  "y": {"field": "r", "type": "ordinal", "axis": null, "scale": {"paddingInner": 0, "paddingOuter": 0}},
  "fill": {"condition": [{"test": "datum.v == 2", "value": "black"}, {"test": "datum.v == 1", "value": "#d0d0d0"}], "value": "white"}
 }},
{"data": {"name": "bRight"}, "width": 37, "height": 495,
 "title": {"text": "BIST Session SN", "orient": "right", "fontSize": 22, "fontWeight": "bold", "offset": 2},
 "encoding": {"y": {"field": "i", "type": "ordinal", "axis": null, "scale": {"paddingInner": 0, "paddingOuter": 0}}},
 "layer": [
  {"mark": {"type": "rect", "stroke": "black", "strokeWidth": 1.5}, "encoding": {"fill": {"condition": {"test": "datum.h == 1", "value": "#d0d0d0"}, "value": "white"}}},
  {"transform": [{"filter": "datum.h == 0"}], "mark": {"type": "text", "fontSize": 19, "align": "center", "baseline": "middle"}, "encoding": {"text": {"field": "t"}}},
  {"transform": [{"filter": "datum.h == 1"}], "mark": {"type": "text", "fontSize": 19, "fontWeight": "bold", "align": "center", "baseline": "middle"}, "encoding": {"text": {"field": "t"}}}
 ]},
{"data": {"values": [{}]}, "mark": {"type": "text", "text": ""}, "width": 1, "height": 1},
{"data": {"name": "bBottom"}, "width": 494, "height": 39,
 "title": {"text": "Diagnostic Session EW", "orient": "bottom", "fontSize": 22, "fontWeight": "bold", "offset": 5},
 "encoding": {"x": {"field": "i", "type": "ordinal", "axis": null, "scale": {"paddingInner": 0, "paddingOuter": 0}}},
 "layer": [
  {"mark": {"type": "rect", "stroke": "black", "strokeWidth": 1.5}, "encoding": {"fill": {"condition": {"test": "datum.h == 1", "value": "#d0d0d0"}, "value": "white"}}},
  {"transform": [{"filter": "datum.h == 0"}], "mark": {"type": "text", "angle": 270, "fontSize": 19, "align": "center", "baseline": "middle"}, "encoding": {"text": {"field": "t"}}},
  {"transform": [{"filter": "datum.h == 1"}], "mark": {"type": "text", "angle": 270, "fontSize": 19, "fontWeight": "bold", "align": "center", "baseline": "middle"}, "encoding": {"text": {"field": "t"}}}
 ]},
{"data": {"values": [{}]}, "mark": {"type": "text", "text": ""}, "width": 1, "height": 1},
{"data": {"values": [{}]}, "mark": {"type": "text", "text": ""}, "width": 1, "height": 1},
{"data": {"values": [{"t": "b) ORCA 2C15A with two faulty PLBs"}]}, "width": 494, "height": 18,
 "mark": {"type": "text", "fontSize": 20, "baseline": "middle"}, "encoding": {"text": {"field": "t"}}},
{"data": {"values": [{}]}, "mark": {"type": "text", "text": ""}, "width": 1, "height": 1}
]
}
]
}
